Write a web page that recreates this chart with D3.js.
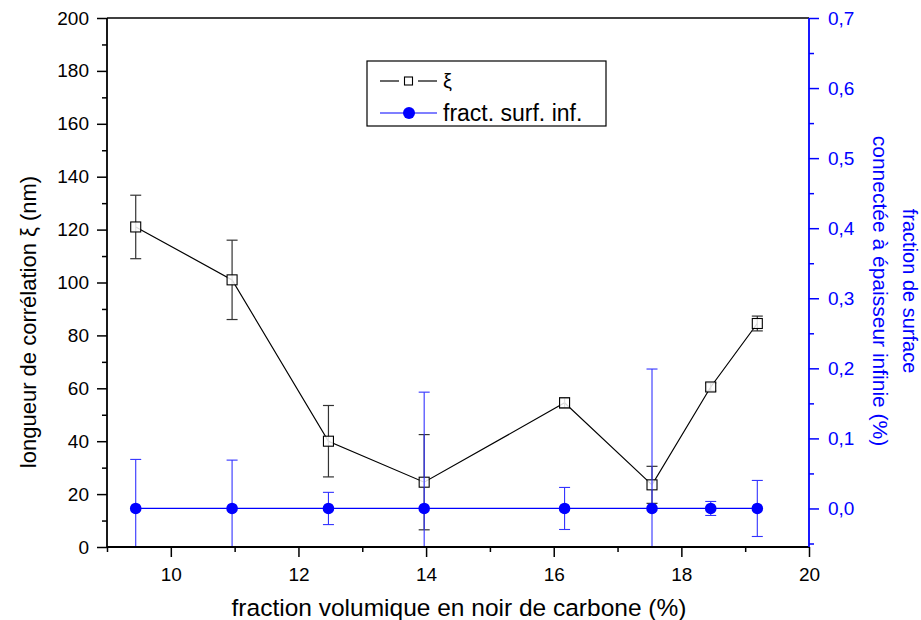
<!DOCTYPE html>
<html>
<head>
<meta charset="utf-8">
<script src="https://cdn.jsdelivr.net/npm/d3@7"></script>
<style>
  body { margin: 0; background: #fff; }
  svg { font-family: Arial, "Liberation Sans", sans-serif; }
</style>
</head>
<body>
<svg id="chart" width="921" height="620"></svg>
<script>
// data
var cbFraction = [9.45, 10.96, 12.47, 13.97, 16.17, 17.54, 18.46, 19.19];
var xiValues   = [121, 101, 40, 24.5, 54.5, 23.5, 60.5, 84.5];
var xiErrors   = [12, 15, 13.5, 18, 1.9, 7, 1.5, 2.8];
var fracValues = [0, 0, 0, 0, 0, 0, 0, 0];
var fracErrors = [0.07, 0.069, 0.023, 0.166, 0.03, 0.199, 0.01, 0.04];

var xMajor  = [10, 12, 14, 16, 18, 20];
var xMinor  = [9, 11, 13, 15, 17, 19];
var yMajor  = [0, 20, 40, 60, 80, 100, 120, 140, 160, 180, 200];
var yMinor  = [10, 30, 50, 70, 90, 110, 130, 150, 170, 190];
var y2Major = [0, 0.1, 0.2, 0.3, 0.4, 0.5, 0.6, 0.7];
var y2Minor = [-0.05, 0.05, 0.15, 0.25, 0.35, 0.45, 0.55, 0.65];

var svg = d3.select("#chart"),
    margin = {left: 107, top: 18, right: 112, bottom: 73},
    width = 921 - margin.left - margin.right,
    height = 620 - margin.top - margin.bottom;

var xScale = d3.scaleLinear().domain([9, 20]).range([0, width]);
var yScale = d3.scaleLinear().domain([0, 200]).range([height, 0]);
var y2Scale = d3.scaleLinear().domain([-0.055, 0.7]).range([height, 0]);

var g = svg.append("g")
           .attr("transform", "translate(" + margin.left + "," + margin.top + ")");

g.append("clipPath").attr("id", "plotclip")
 .append("rect").attr("width", width).attr("height", height);

var pts = cbFraction.map(function(x, i) {
    return {x: x, xi: xiValues[i], xiErr: xiErrors[i], fr: fracValues[i], frErr: fracErrors[i]};
});

// black series (xi)
var black = g.append("g").attr("clip-path", "url(#plotclip)");
black.append("path")
     .datum(pts)
     .attr("fill", "none")
     .attr("stroke", "#000")
     .attr("stroke-width", 1.2)
     .attr("d", d3.line().x(function(d) { return xScale(d.x); }).y(function(d) { return yScale(d.xi); }));

var eb = black.selectAll(".xierr").data(pts).enter().append("g").attr("class", "xierr")
              .attr("stroke", "#333").attr("stroke-width", 1.2);
eb.append("line")
  .attr("x1", function(d) { return xScale(d.x); })
  .attr("x2", function(d) { return xScale(d.x); })
  .attr("y1", function(d) { return yScale(d.xi + d.xiErr); })
  .attr("y2", function(d) { return yScale(d.xi - d.xiErr); });
eb.selectAll(".cap")
  .data(function(d) { return [d.xi + d.xiErr, d.xi - d.xiErr].map(function(v) { return {x: d.x, v: v}; }); })
  .enter().append("line")
  .attr("x1", function(d) { return xScale(d.x) - 5.5; })
  .attr("x2", function(d) { return xScale(d.x) + 5.5; })
  .attr("y1", function(d) { return yScale(d.v); })
  .attr("y2", function(d) { return yScale(d.v); });

black.selectAll(".sq").data(pts).enter().append("rect")
     .attr("x", function(d) { return xScale(d.x) - 5; })
     .attr("y", function(d) { return yScale(d.xi) - 5; })
     .attr("width", 10).attr("height", 10)
     .attr("fill", "#fff").attr("fill-opacity", 0.85)
     .attr("stroke", "#000").attr("stroke-width", 1.1);

// blue series (fract. surf. inf.)
var blue = g.append("g").attr("clip-path", "url(#plotclip)");
blue.append("path")
    .datum(pts)
    .attr("fill", "none")
    .attr("stroke", "#0000ff")
    .attr("stroke-width", 1.2)
    .attr("d", d3.line().x(function(d) { return xScale(d.x); }).y(function(d) { return y2Scale(d.fr); }));

var be = blue.selectAll(".frerr").data(pts).enter().append("g").attr("class", "frerr")
             .attr("stroke", "#3333ff").attr("stroke-width", 1.1);
be.append("line")
  .attr("x1", function(d) { return xScale(d.x); })
  .attr("x2", function(d) { return xScale(d.x); })
  .attr("y1", function(d) { return y2Scale(d.fr + d.frErr); })
  .attr("y2", function(d) { return y2Scale(d.fr - d.frErr); });
be.selectAll(".cap")
  .data(function(d) { return [d.fr + d.frErr, d.fr - d.frErr].map(function(v) { return {x: d.x, v: v}; }); })
  .enter().append("line")
  .attr("x1", function(d) { return xScale(d.x) - 5.5; })
  .attr("x2", function(d) { return xScale(d.x) + 5.5; })
  .attr("y1", function(d) { return y2Scale(d.v); })
  .attr("y2", function(d) { return y2Scale(d.v); });

blue.selectAll(".dot").data(pts).enter().append("circle")
    .attr("cx", function(d) { return xScale(d.x); })
    .attr("cy", function(d) { return y2Scale(d.fr); })
    .attr("r", 5.8)
    .attr("fill", "#0000ff");

// axes
function styleAxis(sel, color) {
    sel.select(".domain").remove();
    sel.selectAll("line").attr("stroke", color).attr("stroke-width", 1.5);
    sel.selectAll("text").attr("fill", color).attr("font-size", "19px")
       .attr("font-family", "Arial, 'Liberation Sans', sans-serif");
}

var xAx = g.append("g").attr("transform", "translate(0," + height + ")")
           .call(d3.axisBottom(xScale).tickValues(xMajor).tickSize(10).tickPadding(11));
styleAxis(xAx, "#000");
var xAxMinor = g.append("g").attr("transform", "translate(0," + height + ")")
                .call(d3.axisBottom(xScale).tickValues(xMinor).tickSize(5).tickFormat(""));
styleAxis(xAxMinor, "#000");

var yAx = g.append("g")
           .call(d3.axisLeft(yScale).tickValues(yMajor).tickSize(10).tickPadding(8));
styleAxis(yAx, "#000");
var yAxMinor = g.append("g")
                .call(d3.axisLeft(yScale).tickValues(yMinor).tickSize(5).tickFormat(""));
styleAxis(yAxMinor, "#000");

var y2Ax = g.append("g").attr("transform", "translate(" + width + ",0)")
            .call(d3.axisRight(y2Scale).tickValues(y2Major).tickSize(10).tickPadding(9)
            .tickFormat(function(d) { return d3.format(".1f")(d).replace(".", ","); }));
styleAxis(y2Ax, "#0000ff");
var y2AxMinor = g.append("g").attr("transform", "translate(" + width + ",0)")
                 .call(d3.axisRight(y2Scale).tickValues(y2Minor).tickSize(5).tickFormat(""));
styleAxis(y2AxMinor, "#0000ff");

// frame lines
g.append("line").attr("x1", 0).attr("x2", width).attr("y1", 0).attr("y2", 0)
 .attr("stroke", "#000").attr("stroke-width", 1.5);
g.append("line").attr("x1", 0).attr("x2", width).attr("y1", height).attr("y2", height)
 .attr("stroke", "#000").attr("stroke-width", 1.8);
g.append("line").attr("x1", 0).attr("x2", 0).attr("y1", 0).attr("y2", height)
 .attr("stroke", "#000").attr("stroke-width", 1.8);
g.append("line").attr("x1", width).attr("x2", width).attr("y1", 0).attr("y2", height)
 .attr("stroke", "#0000ff").attr("stroke-width", 1.8);

// axis titles
svg.append("text")
   .attr("x", margin.left + width / 2 + 1).attr("y", 616)
   .attr("text-anchor", "middle").attr("font-size", "24.5px")
   .text("fraction volumique en noir de carbone (%)");

svg.append("text")
   .attr("transform", "translate(36,322) rotate(-90)")
   .attr("text-anchor", "middle").attr("font-size", "22px")
   .text("longueur de corrélation ξ (nm)");

svg.append("text")
   .attr("transform", "translate(903,291) rotate(90)")
   .attr("text-anchor", "middle").attr("font-size", "20px").attr("fill", "#0000ff")
   .text("fraction de surface");
svg.append("text")
   .attr("transform", "translate(873,291) rotate(90)")
   .attr("text-anchor", "middle").attr("font-size", "21px").attr("fill", "#0000ff")
   .text("connectée à épaisseur infinie (%)");

// legend
var lg = svg.append("g").attr("transform", "translate(367,61)");
lg.append("rect").attr("width", 239).attr("height", 65)
  .attr("fill", "#fff").attr("stroke", "#000").attr("stroke-width", 1.2);

lg.append("line").attr("x1", 13).attr("x2", 32).attr("y1", 20).attr("y2", 20).attr("stroke", "#000").attr("stroke-width", 1.2);
lg.append("line").attr("x1", 51).attr("x2", 70).attr("y1", 20).attr("y2", 20).attr("stroke", "#000").attr("stroke-width", 1.2);
lg.append("rect").attr("x", 37.5).attr("y", 16).attr("width", 8).attr("height", 8)
  .attr("fill", "#fff").attr("stroke", "#000").attr("stroke-width", 1.1);
lg.append("text").attr("x", 76).attr("y", 27).attr("font-size", "20px").text("ξ");

lg.append("line").attr("x1", 13).attr("x2", 70).attr("y1", 52).attr("y2", 52).attr("stroke", "#0000ff").attr("stroke-width", 1.2);
lg.append("circle").attr("cx", 42).attr("cy", 52).attr("r", 6).attr("fill", "#0000ff");
lg.append("text").attr("x", 76).attr("y", 60).attr("font-size", "23px").text("fract. surf. inf.");
</script>
</body>
</html>
